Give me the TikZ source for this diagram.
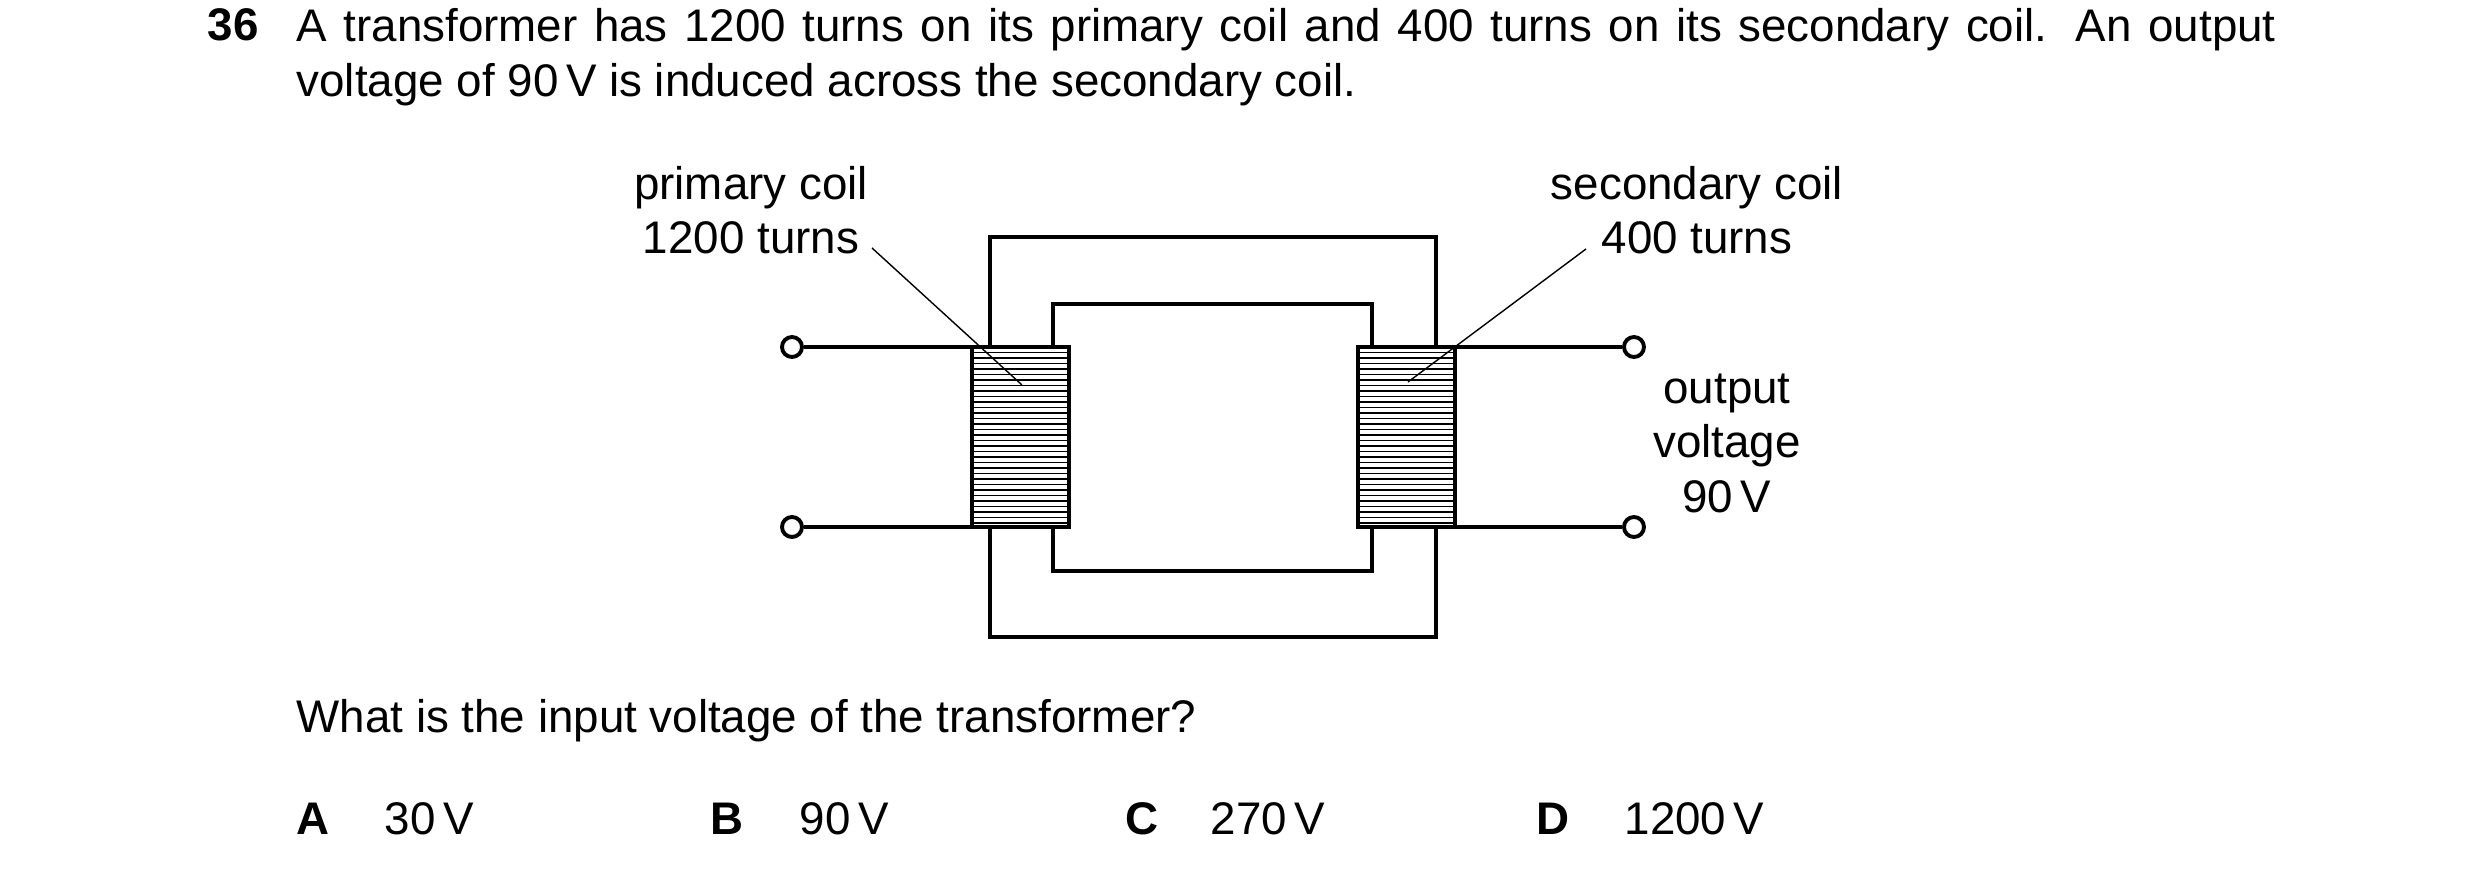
\documentclass[tikz,border=0pt]{standalone}
\usepackage{fontspec}
\setmainfont{Liberation Sans}
\usetikzlibrary{positioning}
\tikzstyle{core} = [line width=1.3pt]
\tikzstyle{coil} = [line width=1.3pt, fill=white]
\tikzstyle{turn} = [line width=0.4pt]
\tikzstyle{leader} = [line width=0.4pt]
\tikzstyle{term} = [circle, draw, line width=1.1pt, fill=white, inner sep=0pt, minimum size=0.2cm]
\tikzstyle{label} = [font=\fontsize{13}{15.5}\selectfont, align=center, inner sep=0pt]

\begin{document}
\begin{tikzpicture}[x=0.01cm, y=-0.01cm]
\useasboundingbox (0,0) rectangle (2480,874);

% question
\node (num) [label, anchor=north west, font=\fontsize{13}{15.5}\selectfont\bfseries] at (207,8) {36};
\node (question) [label, anchor=north west, text width=19.78cm, align=justify] at (296,8)
  {A transformer has 1200 turns on its primary coil and 400 turns on its secondary coil. An output voltage of 90\,V is induced across the secondary coil.};

% iron core
\draw [core] (990,237) rectangle (1436,637);
\draw [core] (1053,304) rectangle (1372,571);

% terminals and wires
\node (inA) [term] at (792,347) {};
\node (inB) [term] at (792,527) {};
\node (outA) [term] at (1634,347) {};
\node (outB) [term] at (1634,527) {};
\draw [core] (inA) -- (972,347);
\draw [core] (inB) -- (972,527);
\draw [core] (outA) -- (1455,347);
\draw [core] (outB) -- (1455,527);

% coils
\draw [coil] (972,347) rectangle (1069,527);
\draw [coil] (1358,347) rectangle (1455,527);
\foreach \y in {352.5,358,...,523} {
  \draw [turn] (972,\y) -- (1069,\y);
  \draw [turn] (1358,\y) -- (1455,\y);
}
\draw [coil, fill=none] (972,347) rectangle (1069,527);
\draw [coil, fill=none] (1358,347) rectangle (1455,527);

% labels
\node (prim) [label] at (751,210) {primary coil\\1200 turns};
\node (sec) [label] at (1697,210) {secondary coil\\400 turns};
\coordinate (primend) at (1022,385);
\coordinate (secend) at (1408,382);
\draw [leader] (872,248) -- (primend);
\draw [leader] (1586,249) -- (secend);
\node (out) [label] at (1727,443) {output\\voltage\\90\,V};

% answers
\node (ask) [label, anchor=west] at (296,721) {What is the input voltage of the transformer?};
\node (A) [label, anchor=west, font=\fontsize{13}{15.5}\selectfont\bfseries] at (296,819) {A};
\node (Av) [label, anchor=west] at (384,819) {30\,V};
\node (B) [label, anchor=west, font=\fontsize{13}{15.5}\selectfont\bfseries] at (710,819) {B};
\node (Bv) [label, anchor=west] at (799,819) {90\,V};
\node (C) [label, anchor=west, font=\fontsize{13}{15.5}\selectfont\bfseries] at (1125,819) {C};
\node (Cv) [label, anchor=west] at (1210,819) {270\,V};
\node (D) [label, anchor=west, font=\fontsize{13}{15.5}\selectfont\bfseries] at (1536,819) {D};
\node (Dv) [label, anchor=west] at (1624,819) {1200\,V};
\end{tikzpicture}
\end{document}
